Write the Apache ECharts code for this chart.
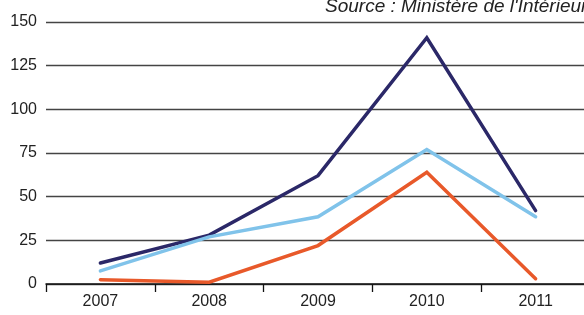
<!DOCTYPE html>
<html>
<head>
    <meta charset="utf-8">
    <title>Ministère de l'Intérieur</title>
    <script src="https://cdn.jsdelivr.net/npm/echarts@6/dist/echarts.min.js"></script>
    <style>
        html, body { margin: 0; padding: 0; background: #fff; }
        #chart { width: 584px; height: 315px; }
    </style>
</head>
<body>
    <div id="chart"></div>
    <script>
        // données
        const years = ['2007', '2008', '2009', '2010', '2011'];
        const serieFoncee = [12, 28, 62, 141, 42];
        const serieClaire = [7.5, 27, 38.5, 77, 38.5];
        const serieOrange = [2.5, 1, 22, 64, 3];
        const yTicks = { min: 0, max: 150, interval: 25 };

        const font = '"Liberation Sans", Arial, sans-serif';

        const chart = echarts.init(document.getElementById('chart'));

        function ligne(data, color) {
            return {
                type: 'line',
                data: data,
                symbol: 'none',
                lineStyle: { color: color, width: 3.5, cap: 'round', join: 'miter' },
                animation: false
            };
        }

        chart.setOption({
            animation: false,
            graphic: [{
                type: 'text',
                left: 325,
                top: -3,
                style: {
                    text: "Source : Ministère de l'Intérieur",
                    font: 'italic 19px ' + font,
                    fill: '#222'
                }
            }],
            // la grille déborde à droite du cadre comme dans l'original
            grid: {
                left: 46, width: 544, top: 22, bottom: 31,
                containLabel: false,
                outerBoundsMode: 'none'
            },
            xAxis: {
                type: 'category',
                data: years,
                boundaryGap: true,
                axisLine: { lineStyle: { color: '#111', width: 1.5 } },
                axisTick: { show: true, length: 8, lineStyle: { color: '#111', width: 1.3 } },
                axisLabel: { color: '#222', fontSize: 16, fontFamily: font, margin: 10 }
            },
            yAxis: {
                type: 'value',
                min: yTicks.min,
                max: yTicks.max,
                interval: yTicks.interval,
                axisLine: { show: false },
                axisTick: { show: false },
                axisLabel: { color: '#222', fontSize: 16, fontFamily: font, margin: 9 },
                splitLine: { lineStyle: { color: '#444', width: 1.3 } }
            },
            series: [
                ligne(serieFoncee, '#2b2868'),
                ligne(serieClaire, '#80c3ea'),
                ligne(serieOrange, '#e8592a')
            ]
        });
    </script>
</body>
</html>
